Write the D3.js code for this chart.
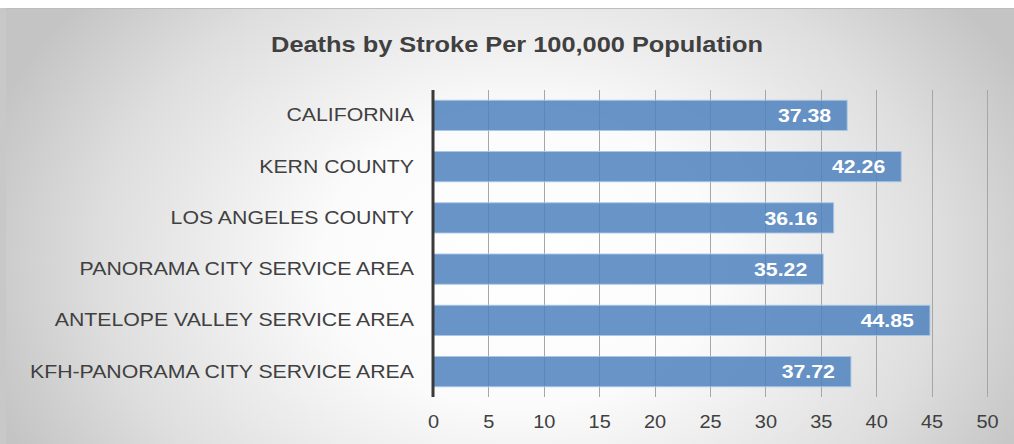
<!DOCTYPE html>
<html>
<head>
<meta charset="utf-8">
<script src="https://cdn.jsdelivr.net/npm/d3@7"></script>
<style>
  html, body { margin: 0; padding: 0; background: #ffffff; }
  svg { display: block; }
  text { font-family: "Liberation Sans", Arial, sans-serif; }
</style>
</head>
<body>
<svg id="chart" width="1014" height="444"></svg>
<script>
// Stroke death rates by area
const categories = [
  "CALIFORNIA",
  "KERN COUNTY",
  "LOS ANGELES COUNTY",
  "PANORAMA CITY SERVICE AREA",
  "ANTELOPE VALLEY SERVICE AREA",
  "KFH-PANORAMA CITY SERVICE AREA"
];
const values = [37.38, 42.26, 36.16, 35.22, 44.85, 37.72];
const xTicks = [0, 5, 10, 15, 20, 25, 30, 35, 40, 45, 50];
const title = "Deaths by Stroke Per 100,000 Population";

const W = 1014, H = 444;
const svg = d3.select("#chart");
const defs = svg.append("defs");

// Soft radial backdrop for the chart area
const grad = defs.append("radialGradient")
  .attr("id", "bg")
  .attr("gradientUnits", "userSpaceOnUse")
  .attr("cx", 520).attr("cy", 260).attr("r", 560)
  .attr("gradientTransform", "translate(520,260) scale(1,0.75) translate(-520,-260)");
grad.append("stop").attr("offset", 0).attr("stop-color", "#ffffff");
grad.append("stop").attr("offset", 0.35).attr("stop-color", "#fbfbfb");
grad.append("stop").attr("offset", 0.75).attr("stop-color", "#dedede");
grad.append("stop").attr("offset", 1).attr("stop-color", "#c4c4c4");

svg.append("rect").attr("x", 0).attr("y", 8).attr("width", 6).attr("height", H - 8)
  .attr("fill", "#c8c8c8");
svg.append("rect").attr("x", 6).attr("y", 8).attr("width", W - 6).attr("height", H - 8)
  .attr("fill", "url(#bg)");
svg.append("line").attr("x1", 6).attr("x2", W).attr("y1", 8.5).attr("y2", 8.5)
  .attr("stroke", "#bdbdbd").attr("stroke-width", 1);

const margin = { left: 433, right: 27, top: 90, bottom: 47 };
const x = d3.scaleLinear().domain([0, 50]).range([margin.left, W - margin.right]);
const y = d3.scaleBand().domain(categories)
  .range([margin.top, H - margin.bottom]).paddingInner(0.41).paddingOuter(0.2);

// Text in this chart is set slightly wide
const wideCat = 1.12, wideTick = 1.05, wideTitle = 1.18;

// Title
svg.append("text")
  .attr("transform", `translate(517,52) scale(${wideTitle},1)`)
  .attr("text-anchor", "middle")
  .attr("font-size", 21.5).attr("font-weight", "bold")
  .attr("fill", "#404040")
  .text(title);

// Vertical gridlines
svg.append("g").selectAll("line").data(xTicks.filter(d => d > 0)).join("line")
  .attr("x1", d => Math.round(x(d)) + 0.5).attr("x2", d => Math.round(x(d)) + 0.5)
  .attr("y1", margin.top).attr("y2", H - margin.bottom)
  .attr("stroke", "#a6a6a6").attr("stroke-width", 1);

// Bars
svg.append("g").selectAll("rect").data(values).join("rect")
  .attr("x", x(0))
  .attr("y", (d, i) => y(categories[i]))
  .attr("width", d => x(d) - x(0))
  .attr("height", y.bandwidth())
  .attr("fill", "rgba(79,129,189,0.85)")
  .attr("stroke", "rgba(170,198,230,0.9)")
  .attr("stroke-width", 1);

// Value labels
svg.append("g").selectAll("text").data(values).join("text")
  .attr("transform", (d, i) =>
    `translate(${x(d) - 16},${y(categories[i]) + y.bandwidth() / 2}) scale(${wideCat},1)`)
  .attr("dy", "0.36em")
  .attr("text-anchor", "end")
  .attr("font-size", 19).attr("font-weight", "bold")
  .attr("fill", "#ffffff")
  .text(d => d.toFixed(2));

// Category axis
const catPad = 19;
const yAxis = d3.axisLeft(y).tickSize(0).tickPadding(catPad);
const gy = svg.append("g").attr("transform", `translate(${x(0)},0)`).call(yAxis);
gy.select(".domain").remove();
gy.selectAll("text")
  .attr("x", 0)
  .attr("transform", `translate(${-catPad},0) scale(${wideCat},1)`)
  .attr("font-size", 19).attr("fill", "#404040")
  .attr("font-family", "'Liberation Sans', Arial, sans-serif");

// Value axis labels
const xAxis = d3.axisBottom(x).tickValues(xTicks).tickSize(0).tickPadding(17.5);
const gx = svg.append("g").attr("transform", `translate(0,${H - margin.bottom})`).call(xAxis);
gx.select(".domain").remove();
gx.selectAll("text")
  .attr("transform", `scale(${wideTick},1)`)
  .attr("font-size", 19).attr("fill", "#404040")
  .attr("font-family", "'Liberation Sans', Arial, sans-serif");

// Baseline at zero
svg.append("line")
  .attr("x1", x(0)).attr("x2", x(0))
  .attr("y1", margin.top).attr("y2", H - margin.bottom)
  .attr("stroke", "#3a3a3a").attr("stroke-width", 3);
</script>
</body>
</html>
